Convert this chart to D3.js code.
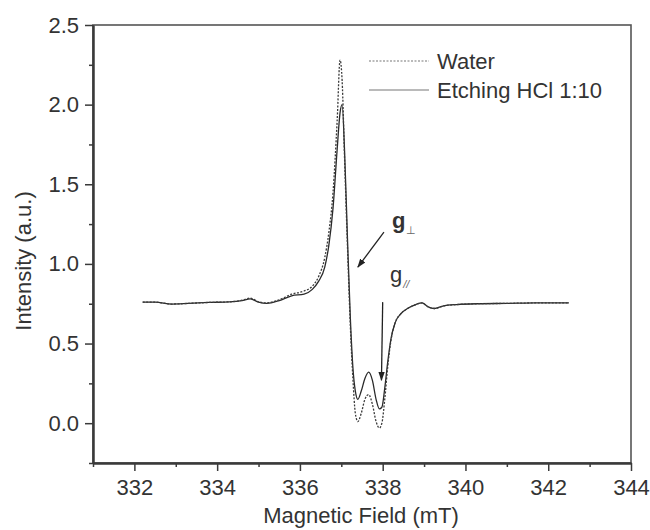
<!DOCTYPE html>
<html>
<head>
<meta charset="utf-8">
<script src="https://cdn.jsdelivr.net/npm/d3@7"></script>
<style>
  html, body { margin: 0; padding: 0; background: #fff; }
  svg { display: block; }
  text { font-family: "Liberation Sans", Arial, sans-serif; fill: #333; }
</style>
</head>
<body>
<svg id="chart" width="650" height="530"></svg>
<script>
// EPR spectra: magnetic field (mT) and intensity (a.u.)
const field = [332.2, 332.5, 332.9, 333.3, 333.8, 334.3, 334.6, 334.8, 335.0, 335.2,
  335.5, 335.8, 336.1, 336.3, 336.45, 336.6, 336.7, 336.8, 336.9, 336.97,
  337.02, 337.08, 337.15, 337.22, 337.28, 337.34, 337.4, 337.48, 337.57, 337.66,
  337.75, 337.84, 337.92, 337.98, 338.05, 338.12, 338.2, 338.3, 338.45, 338.6,
  338.8, 338.95, 339.1, 339.25, 339.45, 339.8, 340.3, 341.0, 341.7, 342.5];
const water = [0.76, 0.76, 0.748, 0.752, 0.758, 0.762, 0.772, 0.785, 0.762, 0.755,
  0.775, 0.81, 0.83, 0.86, 0.92, 1.04, 1.2, 1.45, 1.9, 2.28,
  2.15, 1.65, 1.1, 0.6, 0.28, 0.06, 0.01, 0.06, 0.15, 0.18,
  0.12, 0.01, -0.03, 0.0, 0.15, 0.35, 0.52, 0.63, 0.69, 0.72,
  0.745, 0.755, 0.73, 0.72, 0.735, 0.745, 0.75, 0.752, 0.755, 0.755];
const etching = [0.76, 0.76, 0.748, 0.752, 0.758, 0.762, 0.77, 0.78, 0.76, 0.752,
  0.77, 0.80, 0.81, 0.84, 0.89, 0.98, 1.12, 1.35, 1.72, 1.95,
  2.0, 1.7, 1.15, 0.65, 0.35, 0.2, 0.15, 0.2, 0.28, 0.32,
  0.27, 0.15, 0.09, 0.1, 0.22, 0.38, 0.53, 0.63, 0.69, 0.72,
  0.745, 0.755, 0.73, 0.72, 0.735, 0.745, 0.75, 0.752, 0.755, 0.755];

const xTicks = [332, 334, 336, 338, 340, 342, 344];
const xMinor = [331, 333, 335, 337, 339, 341, 343];
const yTicks = [0.0, 0.5, 1.0, 1.5, 2.0, 2.5];
const yMinor = [-0.25, 0.25, 0.75, 1.25, 1.75, 2.25];

const seriesNames = ["Water", "Etching HCl 1:10"];

// Arrow annotations in data coordinates: [x1, y1, x2, y2]
const arrowPerp = [338.03, 1.2, 337.4, 0.98];
const arrowPar = [338.0, 0.76, 337.97, 0.27];

const svg = d3.select("#chart");
const plotLeft = 93, plotRight = 631, plotTop = 25, plotBottom = 463;
const fontSize = 22;

const x = d3.scaleLinear().domain([331, 344]).range([plotLeft, plotRight]);
const y = d3.scaleLinear().domain([-0.25, 2.5]).range([plotBottom, plotTop]);

const axisColor = "#3a3a3a";

// frame
svg.append("rect")
  .attr("x", plotLeft).attr("y", plotTop)
  .attr("width", plotRight - plotLeft).attr("height", plotBottom - plotTop)
  .attr("fill", "none").attr("stroke", "#555").attr("stroke-width", 1.6);

// bottom axis
const gx = svg.append("g").attr("transform", `translate(0,${plotBottom})`)
  .call(d3.axisBottom(x).tickValues(xTicks).tickFormat(d3.format("d")).tickSize(8).tickPadding(8).tickSizeOuter(0));
const gxm = svg.append("g").attr("transform", `translate(0,${plotBottom})`)
  .call(d3.axisBottom(x).tickValues(xMinor).tickFormat("").tickSize(4).tickSizeOuter(0));

// left axis
const gy = svg.append("g").attr("transform", `translate(${plotLeft},0)`)
  .call(d3.axisLeft(y).tickValues(yTicks).tickFormat(d3.format(".1f")).tickSize(8).tickPadding(6).tickSizeOuter(0));
const gym = svg.append("g").attr("transform", `translate(${plotLeft},0)`)
  .call(d3.axisLeft(y).tickValues(yMinor).tickFormat("").tickSize(4).tickSizeOuter(0));

[gx, gxm, gy, gym].forEach(g => {
  g.attr("font-size", fontSize).attr("font-family", "'Liberation Sans', Arial, sans-serif");
  g.select(".domain").attr("stroke", axisColor).attr("stroke-width", 2);
  g.selectAll(".tick line").attr("stroke", axisColor).attr("stroke-width", 1.5);
  g.selectAll(".tick text").attr("fill", "#333");
});

// axis titles
svg.append("text").attr("x", 361).attr("y", 523)
  .attr("text-anchor", "middle").attr("font-size", fontSize).text("Magnetic Field (mT)");
svg.append("text")
  .attr("transform", `translate(31,261) rotate(-90)`)
  .attr("text-anchor", "middle").attr("font-size", fontSize).text("Intensity (a.u.)");

// spectra
const pts = s => field.map((f, i) => [f, s[i]]);
const line = d3.line().x(d => x(d[0])).y(d => y(d[1])).curve(d3.curveMonotoneX);

svg.append("path").datum(pts(etching))
  .attr("d", line).attr("fill", "none")
  .attr("stroke", "#2a2a2a").attr("stroke-width", 1.3);
svg.append("path").datum(pts(water))
  .attr("d", line).attr("fill", "none")
  .attr("stroke", "#3a3a3a").attr("stroke-width", 1.3)
  .attr("stroke-dasharray", "2,1.5");

// legend
const legend = svg.append("g");
const legendRows = [
  { name: seriesNames[0], dash: "2,1.5", y: 61 },
  { name: seriesNames[1], dash: null, y: 90 }
];
legendRows.forEach(r => {
  legend.append("line")
    .attr("x1", 369).attr("x2", 429).attr("y1", r.y).attr("y2", r.y)
    .attr("stroke", "#777").attr("stroke-width", 1.2)
    .attr("stroke-dasharray", r.dash);
  legend.append("text").attr("x", 437).attr("y", r.y + 8)
    .attr("font-size", fontSize).text(r.name);
});

// arrowhead marker
svg.append("defs").append("marker")
  .attr("id", "arrowhead").attr("viewBox", "0 0 10 10")
  .attr("refX", 9).attr("refY", 5)
  .attr("markerWidth", 7).attr("markerHeight", 7)
  .attr("orient", "auto-start-reverse")
  .append("path").attr("d", "M0,1.5 L10,5 L0,8.5 Z").attr("fill", "#222");

[arrowPerp, arrowPar].forEach(a => {
  svg.append("line")
    .attr("x1", x(a[0])).attr("y1", y(a[1]))
    .attr("x2", x(a[2])).attr("y2", y(a[3]))
    .attr("stroke", "#222").attr("stroke-width", 1.3)
    .attr("marker-end", "url(#arrowhead)");
});

// g labels
const gPerp = svg.append("text").attr("x", 392).attr("y", 228)
  .attr("font-size", fontSize).attr("font-weight", "bold");
gPerp.append("tspan").text("g");
gPerp.append("tspan").attr("font-size", 11).attr("font-weight", "normal")
  .attr("dy", 6).attr("dx", 1).attr("fill", "#666").text("⊥");

const gPar = svg.append("text").attr("x", 390).attr("y", 282)
  .attr("font-size", fontSize);
gPar.append("tspan").text("g");
gPar.append("tspan").attr("font-size", 11).attr("font-style", "italic")
  .attr("dy", 6).attr("dx", 1).attr("fill", "#666").text("//");
</script>
</body>
</html>
